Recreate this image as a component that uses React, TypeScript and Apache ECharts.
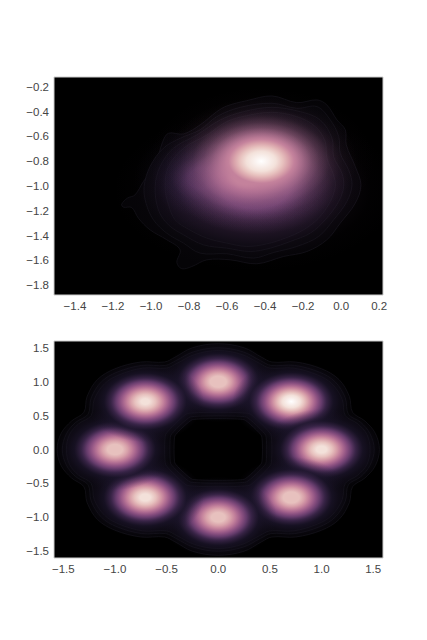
import React, { useEffect, useRef } from "react";
import * as echarts from "echarts";

const topXTicks = [-1.4, -1.2, -1.0, -0.8, -0.6, -0.4, -0.2, 0.0, 0.2];
const topYTicks = [-0.2, -0.4, -0.6, -0.8, -1.0, -1.2, -1.4, -1.6, -1.8];
const bottomXTicks = [-1.5, -1.0, -0.5, 0.0, 0.5, 1.0, 1.5];
const bottomYTicks = [1.5, 1.0, 0.5, 0.0, -0.5, -1.0, -1.5];

// density lumps: x, y, spread x, spread y, peak, level of what lies beneath
const topBlobs = [
  [-0.73, -0.94, 0.12, 0.14, 0.24, 0],
  [-0.45, -1.03, 0.25, 0.22, 0.38, 0.3],
  [-0.42, -0.8, 0.2, 0.2, 0.5, 0.4],
  [-0.5, -0.93, 0.15, 0.14, 0.65, 0.5],
  [-0.42, -0.8, 0.17, 0.175, 1.0, 0.6],
];
const bottomBlobs = [
  [0.0, 1.0, 0.19, 0.2, 0.87, 0],
  [0.707, 0.707, 0.19, 0.2, 1.0, 0],
  [1.0, 0.0, 0.19, 0.2, 0.93, 0],
  [0.707, -0.707, 0.19, 0.2, 0.87, 0],
  [0.0, -1.0, 0.19, 0.2, 0.85, 0],
  [-0.707, -0.707, 0.19, 0.2, 0.93, 0],
  [-1.0, 0.0, 0.19, 0.2, 0.86, 0],
  [-0.707, 0.707, 0.19, 0.2, 0.92, 0],
];

// colour ramp: density level, colour, cover
const rampLevels = [1, 0.9, 0.8, 0.7, 0.6, 0.5, 0.4, 0.3, 0.2, 0.1, 0.05, 0.02];
const rampColors = ["#ffffff", "#f3e1da", "#e7c1be", "#d8a1aa", "#c4829c", "#a9678f", "#894f80", "#643b6b", "#3f284f", "#1c152b", "#1c152b", "#1c152b"];
const rampCover = [1, 1, 1, 1, 1, 1, 1, 1, 0.85, 0.7, 0.35, 0.12];

const topContour1 = [[-1.154, -1.147], [-1.124, -1.098], [-1.084, -1.072], [-1.04, -0.964], [-0.978, -0.83], [-0.938, -0.641], [-0.908, -0.574], [-0.829, -0.58], [-0.742, -0.507], [-0.654, -0.4], [-0.601, -0.354], [-0.496, -0.311], [-0.364, -0.273], [-0.233, -0.327], [-0.127, -0.305], [-0.075, -0.346], [-0.022, -0.467], [0.022, -0.547], [0.027, -0.668], [0.074, -0.843], [0.104, -0.991], [0.074, -1.139], [-0.005, -1.3], [-0.075, -1.434], [-0.18, -1.529], [-0.303, -1.569], [-0.443, -1.628], [-0.584, -1.596], [-0.706, -1.596], [-0.785, -1.65], [-0.838, -1.668], [-0.864, -1.617], [-0.847, -1.515], [-0.917, -1.434], [-1.005, -1.354], [-1.066, -1.26], [-1.101, -1.174], [-1.145, -1.171]];
const topContour2 = [[-1.036, -1.004], [-1.005, -0.843], [-0.935, -0.695], [-0.847, -0.615], [-0.742, -0.547], [-0.654, -0.44], [-0.531, -0.365], [-0.364, -0.332], [-0.233, -0.373], [-0.127, -0.359], [-0.057, -0.467], [-0.013, -0.601], [-0.005, -0.736], [0.039, -0.87], [0.057, -0.991], [0.03, -1.125], [-0.04, -1.273], [-0.119, -1.408], [-0.233, -1.488], [-0.356, -1.537], [-0.461, -1.582], [-0.601, -1.547], [-0.742, -1.542], [-0.829, -1.461], [-0.917, -1.381], [-0.987, -1.273], [-1.026, -1.139]];
const topContour3 = [[-0.978, -1.004], [-0.952, -0.843], [-0.882, -0.695], [-0.759, -0.588], [-0.636, -0.467], [-0.514, -0.4], [-0.364, -0.365], [-0.215, -0.4], [-0.11, -0.467], [-0.048, -0.615], [-0.04, -0.762], [0.004, -0.897], [0.013, -1.004], [-0.013, -1.125], [-0.084, -1.273], [-0.163, -1.381], [-0.268, -1.448], [-0.373, -1.502], [-0.478, -1.529], [-0.601, -1.502], [-0.724, -1.475], [-0.829, -1.394], [-0.908, -1.314], [-0.961, -1.193]];
const topContour4 = [[-0.926, -1.004], [-0.908, -0.843], [-0.829, -0.695], [-0.706, -0.588], [-0.601, -0.48], [-0.496, -0.432], [-0.364, -0.405], [-0.233, -0.44], [-0.136, -0.52], [-0.084, -0.641], [-0.075, -0.776], [-0.04, -0.91], [-0.031, -1.004], [-0.057, -1.125], [-0.119, -1.26], [-0.198, -1.354], [-0.294, -1.421], [-0.391, -1.467], [-0.496, -1.488], [-0.601, -1.461], [-0.706, -1.421], [-0.803, -1.349], [-0.873, -1.273], [-0.908, -1.152]];

const ringOuter1 = [[0, 1.56], [-0.25, 1.5], [-0.42, 1.36], [-0.52, 1.29], [-0.75, 1.29], [-1.0, 1.19], [-1.17, 1.03], [-1.27, 0.78], [-1.3, 0.55], [-1.42, 0.42], [-1.52, 0.24], [-1.56, 0], [-1.52, -0.24], [-1.42, -0.42], [-1.3, -0.55], [-1.27, -0.78], [-1.17, -1.03], [-1.0, -1.19], [-0.75, -1.29], [-0.52, -1.29], [-0.42, -1.36], [-0.25, -1.5], [0, -1.56], [0.25, -1.5], [0.42, -1.36], [0.52, -1.29], [0.75, -1.29], [1.0, -1.19], [1.17, -1.03], [1.27, -0.78], [1.3, -0.55], [1.42, -0.42], [1.52, -0.24], [1.56, 0], [1.52, 0.24], [1.42, 0.42], [1.3, 0.55], [1.27, 0.78], [1.17, 1.03], [1.0, 1.19], [0.75, 1.29], [0.52, 1.29], [0.42, 1.36], [0.25, 1.5]];
const ringOuter2 = [[0, 1.5], [-0.24, 1.44], [-0.41, 1.31], [-0.51, 1.24], [-0.74, 1.24], [-0.98, 1.14], [-1.13, 1.0], [-1.23, 0.76], [-1.26, 0.52], [-1.38, 0.4], [-1.47, 0.23], [-1.51, 0], [-1.47, -0.23], [-1.38, -0.4], [-1.26, -0.52], [-1.23, -0.76], [-1.13, -1.0], [-0.98, -1.14], [-0.74, -1.24], [-0.51, -1.24], [-0.41, -1.31], [-0.24, -1.44], [0, -1.5], [0.24, -1.44], [0.41, -1.31], [0.51, -1.24], [0.74, -1.24], [0.98, -1.14], [1.13, -1.0], [1.23, -0.76], [1.26, -0.52], [1.38, -0.4], [1.47, -0.23], [1.51, 0], [1.47, 0.23], [1.38, 0.4], [1.26, 0.52], [1.23, 0.76], [1.13, 1.0], [0.98, 1.14], [0.74, 1.24], [0.51, 1.24], [0.41, 1.31], [0.24, 1.44]];
const ringOuter3 = [[0, 1.46], [-0.23, 1.4], [-0.4, 1.27], [-0.5, 1.2], [-0.73, 1.2], [-0.96, 1.1], [-1.1, 0.97], [-1.2, 0.74], [-1.23, 0.5], [-1.35, 0.38], [-1.44, 0.22], [-1.47, 0], [-1.44, -0.22], [-1.35, -0.38], [-1.23, -0.5], [-1.2, -0.74], [-1.1, -0.97], [-0.96, -1.1], [-0.73, -1.2], [-0.5, -1.2], [-0.4, -1.27], [-0.23, -1.4], [0, -1.46], [0.23, -1.4], [0.4, -1.27], [0.5, -1.2], [0.73, -1.2], [0.96, -1.1], [1.1, -0.97], [1.2, -0.74], [1.23, -0.5], [1.35, -0.38], [1.44, -0.22], [1.47, 0], [1.44, 0.22], [1.35, 0.38], [1.23, 0.5], [1.2, 0.74], [1.1, 0.97], [0.96, 1.1], [0.73, 1.2], [0.5, 1.2], [0.4, 1.27], [0.23, 1.4]];
const ringHole3 = [[-0.51, 0.22], [-0.3, 0.53], [0.3, 0.53], [0.51, 0.22], [0.51, -0.22], [0.3, -0.53], [-0.3, -0.53], [-0.51, -0.22]];
const ringHole2 = [[-0.46, 0.21], [-0.27, 0.48], [0.27, 0.48], [0.46, 0.21], [0.46, -0.21], [0.27, -0.48], [-0.27, -0.48], [-0.46, -0.21]];
const ringHole1 = [[-0.42, 0.2], [-0.25, 0.44], [0.25, 0.44], [0.42, 0.2], [0.42, -0.2], [0.25, -0.44], [-0.25, -0.44], [-0.42, -0.2]];

const topLayers = [topContour1, topContour2, topContour3, topContour4];
const topFills = ["#050407", "#07060a", "#09070d", "#0b0910"];
const topSmooth = [0.35, 0.35, 0.35, 0.35];
const bottomLayers = [ringOuter1, ringOuter2, ringOuter3, ringHole3, ringHole2, ringHole1];
const bottomFills = ["#050407", "#07060a", "#09070d", "#07060a", "#050407", "#000000"];
const bottomSmooth = [0.35, 0.35, 0.35, 0.12, 0.12, 0.12];

const withCover = (hex: string, a: number) => {
  const r = parseInt(hex.slice(1, 3), 16);
  const g = parseInt(hex.slice(3, 5), 16);
  const b = parseInt(hex.slice(5, 7), 16);
  return `rgba(${r},${g},${b},${a})`;
};

// the radial colour stops of one lump, out to three spreads
const blobStops = (peak: number, floor: number) => {
  const stops: { offset: number; color: string }[] = [];
  const floorIndex = floor > 0 ? rampLevels.findIndex((l) => l <= floor) : -1;
  rampLevels.forEach((lvl, i) => {
    if (lvl > peak) return;
    const r = Math.sqrt(-2 * Math.log(lvl / peak)) / 3;
    if (r >= 1) return;
    const color = floorIndex >= 0 && i > floorIndex
      ? withCover(rampColors[floorIndex], (lvl / rampLevels[floorIndex]) ** 1.5)
      : withCover(rampColors[i], rampCover[i]);
    stops.push({ offset: r, color });
  });
  if (stops[0].offset > 0) {
    const i = rampLevels.findIndex((l) => l <= peak);
    stops.unshift({ offset: 0, color: withCover(rampColors[i], rampCover[i]) });
  }
  const last = floorIndex >= 0 ? rampColors[floorIndex] : "#1c152b";
  stops.push({ offset: 1, color: withCover(last, 0) });
  return stops;
};

const contourSeries = (idx: number, layers: number[][][], fills: string[], smooth: number[]) => ({
  type: "custom",
  xAxisIndex: idx,
  yAxisIndex: idx,
  silent: true,
  clip: true,
  data: layers.map((l) => l[0]),
  renderItem: (p: any, api: any) => ({
    type: "polygon",
    shape: { points: layers[p.dataIndex].map((q) => api.coord(q)), smooth: smooth[p.dataIndex] },
    style: { fill: fills[p.dataIndex], stroke: "#16141b", lineWidth: 0.7 },
  }),
});

const blobSeries = (idx: number, blobs: number[][]) => ({
  type: "custom",
  xAxisIndex: idx,
  yAxisIndex: idx,
  silent: true,
  clip: true,
  data: blobs,
  renderItem: (_p: any, api: any) => {
    const c = api.coord([api.value(0), api.value(1)]);
    const s = api.size([api.value(2), api.value(3)]);
    return {
      type: "ellipse",
      shape: { cx: c[0], cy: c[1], rx: s[0] * 3, ry: s[1] * 3 },
      style: {
        fill: { type: "radial", x: 0.5, y: 0.5, r: 0.5, colorStops: blobStops(api.value(4), api.value(5)) },
      },
    };
  },
});

const tickText = (v: number) => v.toFixed(1).replace("-", "\u2212");

const axisBase = (gridIndex: number, min: number, max: number, ticks: number[]) => ({
  type: "value",
  gridIndex,
  min,
  max,
  splitLine: { show: false },
  axisLine: { show: false },
  axisTick: { show: false },
  axisLabel: {
    customValues: ticks,
    formatter: tickText,
    color: "#444444",
    fontFamily: "Liberation Sans",
    fontSize: 11.5,
    margin: 5,
  },
});

export default function App() {
  const ref = useRef<HTMLDivElement>(null);
  useEffect(() => {
    const chart = echarts.init(ref.current!, undefined, { renderer: "svg" });
    chart.setOption({
      animation: false,
      backgroundColor: "#ffffff",
      grid: [
        { left: 54, top: 77, width: 329, height: 218, show: true, backgroundColor: "#000000", borderColor: "#cccccc", borderWidth: 1 },
        { left: 54, top: 341, width: 329, height: 217, show: true, backgroundColor: "#000000", borderColor: "#cccccc", borderWidth: 1 },
      ],
      xAxis: [axisBase(0, -1.51, 0.22, topXTicks), axisBase(1, -1.59, 1.595, bottomXTicks)],
      yAxis: [axisBase(0, -1.88, -0.12, topYTicks), axisBase(1, -1.6, 1.6, bottomYTicks)],
      series: [
        contourSeries(0, topLayers, topFills, topSmooth),
        blobSeries(0, topBlobs),
        contourSeries(1, bottomLayers, bottomFills, bottomSmooth),
        blobSeries(1, bottomBlobs),
      ],
    });
    return () => chart.dispose();
  }, []);
  return <div ref={ref} style={{ position: "absolute", left: 0, top: 0, width: 427, height: 640 }} />;
}
